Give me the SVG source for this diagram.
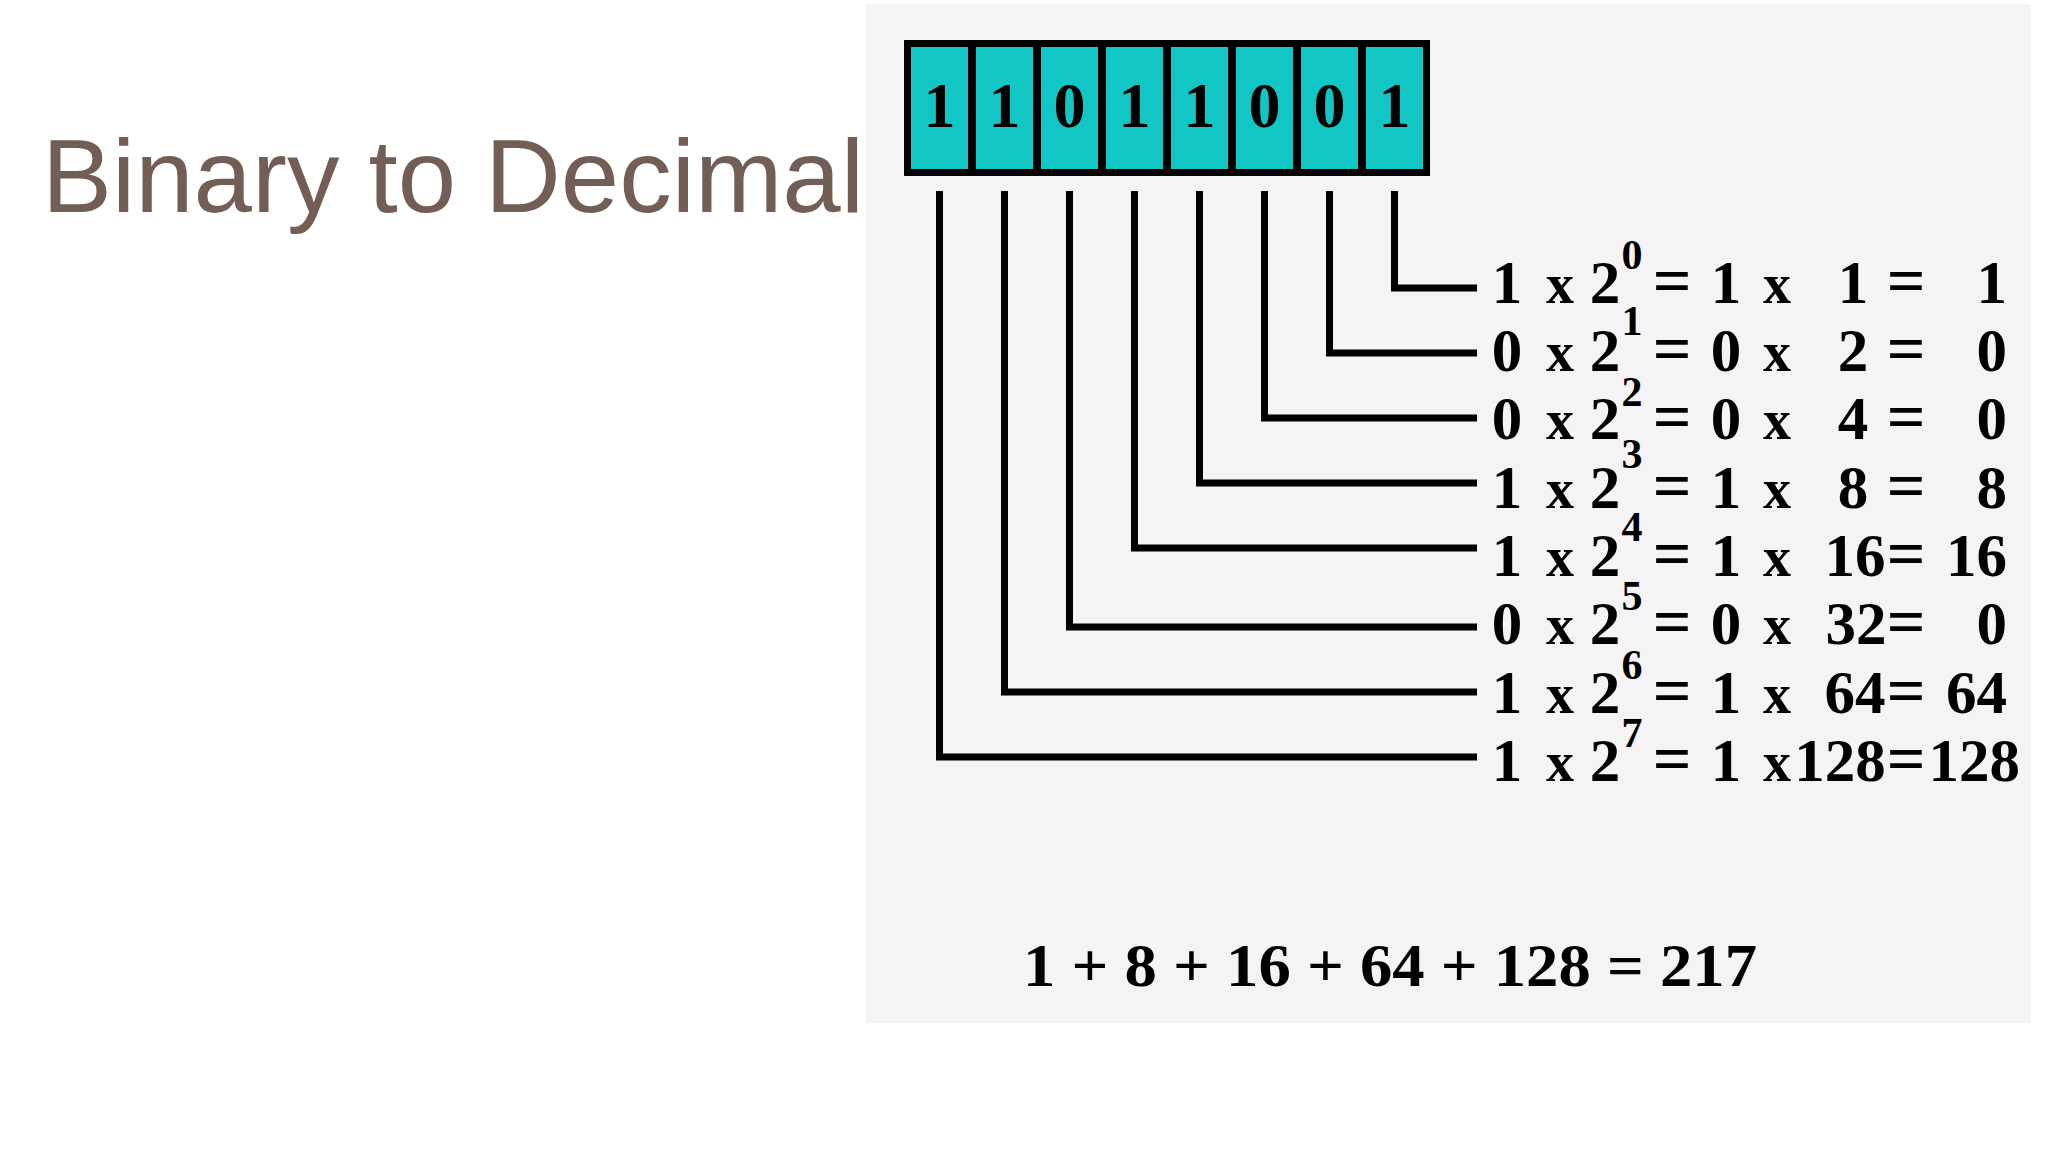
<svg xmlns="http://www.w3.org/2000/svg" width="2048" height="1152" viewBox="0 0 2048 1152">
<style>
.t{font-family:"Liberation Serif","Times New Roman",serif;font-weight:bold;fill:#000;font-size:61px;text-anchor:middle}
.sup{font-size:42px}
.x{font-size:56px}
.eq{font-size:68px}
.r{text-anchor:end}
.bit{font-family:"Liberation Serif","Times New Roman",serif;font-weight:bold;font-size:64px;fill:#000;text-anchor:middle}
.conn{fill:none;stroke:#000;stroke-width:7;stroke-linejoin:miter;stroke-linecap:butt}
.cell{fill:#12c6c6}
</style>
<rect x="0" y="0" width="2048" height="1152" fill="#ffffff"/>
<rect x="866" y="4" width="1165" height="1019" fill="#f5f3f5"/>
<g id="title">
<text x="42" y="212" font-family="'Liberation Sans',Arial,sans-serif" font-size="104" fill="#735e55" textLength="822" lengthAdjust="spacingAndGlyphs">Binary to Decimal</text>
</g>
<g id="register">
<rect x="904" y="40" width="526" height="136" fill="#000"/>
<rect class="cell" x="911" y="47" width="57" height="122"/>
<rect class="cell" x="976" y="47" width="57" height="122"/>
<rect class="cell" x="1041" y="47" width="57" height="122"/>
<rect class="cell" x="1106" y="47" width="57" height="122"/>
<rect class="cell" x="1171" y="47" width="57" height="122"/>
<rect class="cell" x="1236" y="47" width="57" height="122"/>
<rect class="cell" x="1301" y="47" width="57" height="122"/>
<rect class="cell" x="1366" y="47" width="57" height="122"/>
<text class="bit" y="127"><tspan x="939.5">1</tspan><tspan x="1004.5">1</tspan><tspan x="1069.5">0</tspan><tspan x="1134.5">1</tspan><tspan x="1199.5">1</tspan><tspan x="1264.5">0</tspan><tspan x="1329.5">0</tspan><tspan x="1394.5">1</tspan></text>
</g>
<g id="connectors">
<path class="conn" d="M939.5 191 V757 H1477"/>
<path class="conn" d="M1004.5 191 V692 H1477"/>
<path class="conn" d="M1069.5 191 V627 H1477"/>
<path class="conn" d="M1134.5 191 V548 H1477"/>
<path class="conn" d="M1199.5 191 V483 H1477"/>
<path class="conn" d="M1264.5 191 V418 H1477"/>
<path class="conn" d="M1329.5 191 V353 H1477"/>
<path class="conn" d="M1394.5 191 V288 H1477"/>
</g>
<g id="row0">
<text class="t" y="303"><tspan x="1507">1</tspan><tspan x="1560" class="x">x</tspan><tspan x="1605">2</tspan><tspan x="1672" class="eq">=</tspan><tspan x="1726">1</tspan><tspan x="1777" class="x">x</tspan><tspan x="1853">1</tspan><tspan x="1906" class="eq">=</tspan></text>
<text class="t sup" x="1632" y="269">0</text>
<text class="t r" x="2007" y="303">1</text>
</g>
<g id="row1">
<text class="t" y="371"><tspan x="1507">0</tspan><tspan x="1560" class="x">x</tspan><tspan x="1605">2</tspan><tspan x="1672" class="eq">=</tspan><tspan x="1726">0</tspan><tspan x="1777" class="x">x</tspan><tspan x="1853">2</tspan><tspan x="1906" class="eq">=</tspan></text>
<text class="t sup" x="1632" y="335">1</text>
<text class="t r" x="2007" y="371">0</text>
</g>
<g id="row2">
<text class="t" y="439"><tspan x="1507">0</tspan><tspan x="1560" class="x">x</tspan><tspan x="1605">2</tspan><tspan x="1672" class="eq">=</tspan><tspan x="1726">0</tspan><tspan x="1777" class="x">x</tspan><tspan x="1853">4</tspan><tspan x="1906" class="eq">=</tspan></text>
<text class="t sup" x="1632" y="406">2</text>
<text class="t r" x="2007" y="439">0</text>
</g>
<g id="row3">
<text class="t" y="508"><tspan x="1507">1</tspan><tspan x="1560" class="x">x</tspan><tspan x="1605">2</tspan><tspan x="1672" class="eq">=</tspan><tspan x="1726">1</tspan><tspan x="1777" class="x">x</tspan><tspan x="1853">8</tspan><tspan x="1906" class="eq">=</tspan></text>
<text class="t sup" x="1632" y="468">3</text>
<text class="t r" x="2007" y="508">8</text>
</g>
<g id="row4">
<text class="t" y="576"><tspan x="1507">1</tspan><tspan x="1560" class="x">x</tspan><tspan x="1605">2</tspan><tspan x="1672" class="eq">=</tspan><tspan x="1726">1</tspan><tspan x="1777" class="x">x</tspan><tspan x="1855">16</tspan><tspan x="1906" class="eq">=</tspan></text>
<text class="t sup" x="1632" y="541">4</text>
<text class="t r" x="2007" y="576">16</text>
</g>
<g id="row5">
<text class="t" y="644"><tspan x="1507">0</tspan><tspan x="1560" class="x">x</tspan><tspan x="1605">2</tspan><tspan x="1672" class="eq">=</tspan><tspan x="1726">0</tspan><tspan x="1777" class="x">x</tspan><tspan x="1856">32</tspan><tspan x="1906" class="eq">=</tspan></text>
<text class="t sup" x="1632" y="610">5</text>
<text class="t r" x="2007" y="644">0</text>
</g>
<g id="row6">
<text class="t" y="713"><tspan x="1507">1</tspan><tspan x="1560" class="x">x</tspan><tspan x="1605">2</tspan><tspan x="1672" class="eq">=</tspan><tspan x="1726">1</tspan><tspan x="1777" class="x">x</tspan><tspan x="1855">64</tspan><tspan x="1906" class="eq">=</tspan></text>
<text class="t sup" x="1632" y="679">6</text>
<text class="t r" x="2007" y="713">64</text>
</g>
<g id="row7">
<text class="t" y="781"><tspan x="1507">1</tspan><tspan x="1560" class="x">x</tspan><tspan x="1605">2</tspan><tspan x="1672" class="eq">=</tspan><tspan x="1726">1</tspan><tspan x="1777" class="x">x</tspan><tspan x="1840">128</tspan><tspan x="1906" class="eq">=</tspan></text>
<text class="t sup" x="1632" y="747">7</text>
<text class="t r" x="2020" y="781">128</text>
</g>
<g id="sum">
<text class="t" x="1390" y="986" font-size="64" textLength="734" lengthAdjust="spacingAndGlyphs">1 + 8 + 16 + 64 + 128 = 217</text>
</g>
</svg>
